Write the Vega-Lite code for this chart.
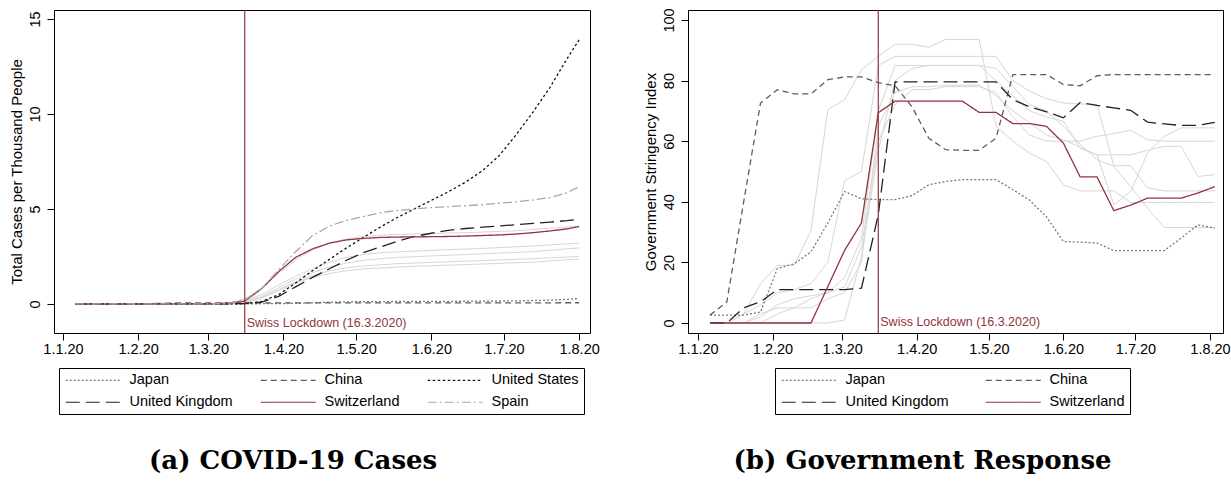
{
"$schema": "https://vega.github.io/schema/vega-lite/v6.json",
"background": "white",
"padding": {"left": 8, "top": 7, "right": 0, "bottom": 0},
"spacing": 42,
"resolve": {"scale": {"color": "independent", "strokeDash": "independent"}, "legend": {"color": "independent", "strokeDash": "independent"}},
"config": {
  "font": "Liberation Sans",
  "view": {"stroke": "black", "strokeWidth": 1},
  "axis": {"domain": false, "grid": false, "tickColor": "black", "tickSize": 7, "tickWidth": 1, "labelColor": "black", "labelFontSize": 14.5, "labelFont": "Liberation Sans", "titleFont": "Liberation Sans", "titleFontSize": 15, "titleFontWeight": "normal", "titleColor": "black"},
  "legend": {"labelFont": "Liberation Sans", "labelColor": "black"},
  "title": {"font": "DejaVu Serif", "fontSize": 26, "fontWeight": "bold", "color": "black", "orient": "bottom", "anchor": "middle", "frame": "bounds"}
},
"datasets": {
  "lock": [{"d": "2020-03-16", "label": "Swiss Lockdown (16.3.2020)"}],
  "cases": [
    {"c":"Japan","d":"2020-01-06","v":0},{"c":"Japan","d":"2020-03-02","v":0.002},{"c":"Japan","d":"2020-03-16","v":0.007},{"c":"Japan","d":"2020-03-30","v":0.015},{"c":"Japan","d":"2020-04-06","v":0.03},{"c":"Japan","d":"2020-04-13","v":0.06},{"c":"Japan","d":"2020-04-20","v":0.09},{"c":"Japan","d":"2020-04-27","v":0.11},{"c":"Japan","d":"2020-05-04","v":0.12},{"c":"Japan","d":"2020-05-11","v":0.125},{"c":"Japan","d":"2020-06-01","v":0.135},{"c":"Japan","d":"2020-06-22","v":0.145},{"c":"Japan","d":"2020-07-06","v":0.16},{"c":"Japan","d":"2020-07-13","v":0.18},{"c":"Japan","d":"2020-07-20","v":0.2},{"c":"Japan","d":"2020-07-27","v":0.24},{"c":"Japan","d":"2020-08-01","v":0.29},
    {"c":"China","d":"2020-01-06","v":0},{"c":"China","d":"2020-01-20","v":0.0002},{"c":"China","d":"2020-01-27","v":0.003},{"c":"China","d":"2020-02-03","v":0.012},{"c":"China","d":"2020-02-10","v":0.029},{"c":"China","d":"2020-02-17","v":0.051},{"c":"China","d":"2020-02-24","v":0.055},{"c":"China","d":"2020-03-02","v":0.057},{"c":"China","d":"2020-03-30","v":0.058},{"c":"China","d":"2020-08-01","v":0.061},
    {"c":"United States","d":"2020-01-06","v":0},{"c":"United States","d":"2020-03-02","v":0.0003},{"c":"United States","d":"2020-03-09","v":0.0017},{"c":"United States","d":"2020-03-16","v":0.014},{"c":"United States","d":"2020-03-23","v":0.13},{"c":"United States","d":"2020-03-30","v":0.49},{"c":"United States","d":"2020-04-06","v":1.1},{"c":"United States","d":"2020-04-13","v":1.75},{"c":"United States","d":"2020-04-20","v":2.35},{"c":"United States","d":"2020-04-27","v":2.95},{"c":"United States","d":"2020-05-04","v":3.5},{"c":"United States","d":"2020-05-11","v":4.05},{"c":"United States","d":"2020-05-18","v":4.55},{"c":"United States","d":"2020-05-25","v":5.0},{"c":"United States","d":"2020-06-01","v":5.45},{"c":"United States","d":"2020-06-08","v":5.9},{"c":"United States","d":"2020-06-15","v":6.4},{"c":"United States","d":"2020-06-22","v":7.0},{"c":"United States","d":"2020-06-29","v":7.8},{"c":"United States","d":"2020-07-06","v":8.9},{"c":"United States","d":"2020-07-13","v":10.1},{"c":"United States","d":"2020-07-20","v":11.4},{"c":"United States","d":"2020-07-27","v":12.9},{"c":"United States","d":"2020-08-01","v":13.9},
    {"c":"United Kingdom","d":"2020-01-06","v":0},{"c":"United Kingdom","d":"2020-03-02","v":0.0006},{"c":"United Kingdom","d":"2020-03-09","v":0.005},{"c":"United Kingdom","d":"2020-03-16","v":0.02},{"c":"United Kingdom","d":"2020-03-23","v":0.09},{"c":"United Kingdom","d":"2020-03-30","v":0.4},{"c":"United Kingdom","d":"2020-04-06","v":0.9},{"c":"United Kingdom","d":"2020-04-13","v":1.4},{"c":"United Kingdom","d":"2020-04-20","v":1.85},{"c":"United Kingdom","d":"2020-04-27","v":2.3},{"c":"United Kingdom","d":"2020-05-04","v":2.7},{"c":"United Kingdom","d":"2020-05-11","v":3.0},{"c":"United Kingdom","d":"2020-05-18","v":3.3},{"c":"United Kingdom","d":"2020-05-25","v":3.55},{"c":"United Kingdom","d":"2020-06-01","v":3.72},{"c":"United Kingdom","d":"2020-06-08","v":3.87},{"c":"United Kingdom","d":"2020-06-15","v":3.97},{"c":"United Kingdom","d":"2020-06-22","v":4.04},{"c":"United Kingdom","d":"2020-06-29","v":4.1},{"c":"United Kingdom","d":"2020-07-06","v":4.17},{"c":"United Kingdom","d":"2020-07-13","v":4.24},{"c":"United Kingdom","d":"2020-07-20","v":4.31},{"c":"United Kingdom","d":"2020-07-27","v":4.38},{"c":"United Kingdom","d":"2020-08-01","v":4.45},
    {"c":"Switzerland","d":"2020-01-06","v":0},{"c":"Switzerland","d":"2020-02-24","v":0.001},{"c":"Switzerland","d":"2020-03-02","v":0.005},{"c":"Switzerland","d":"2020-03-09","v":0.04},{"c":"Switzerland","d":"2020-03-16","v":0.15},{"c":"Switzerland","d":"2020-03-23","v":0.8},{"c":"Switzerland","d":"2020-03-30","v":1.7},{"c":"Switzerland","d":"2020-04-06","v":2.45},{"c":"Switzerland","d":"2020-04-13","v":2.9},{"c":"Switzerland","d":"2020-04-20","v":3.2},{"c":"Switzerland","d":"2020-04-27","v":3.37},{"c":"Switzerland","d":"2020-05-04","v":3.45},{"c":"Switzerland","d":"2020-05-11","v":3.5},{"c":"Switzerland","d":"2020-05-18","v":3.52},{"c":"Switzerland","d":"2020-05-25","v":3.53},{"c":"Switzerland","d":"2020-06-01","v":3.54},{"c":"Switzerland","d":"2020-06-08","v":3.55},{"c":"Switzerland","d":"2020-06-15","v":3.57},{"c":"Switzerland","d":"2020-06-22","v":3.6},{"c":"Switzerland","d":"2020-06-29","v":3.63},{"c":"Switzerland","d":"2020-07-06","v":3.68},{"c":"Switzerland","d":"2020-07-13","v":3.75},{"c":"Switzerland","d":"2020-07-20","v":3.84},{"c":"Switzerland","d":"2020-07-27","v":3.95},{"c":"Switzerland","d":"2020-08-01","v":4.07},
    {"c":"Spain","d":"2020-01-06","v":0},{"c":"Spain","d":"2020-02-17","v":0.0001},{"c":"Spain","d":"2020-03-02","v":0.003},{"c":"Spain","d":"2020-03-09","v":0.03},{"c":"Spain","d":"2020-03-16","v":0.21},{"c":"Spain","d":"2020-03-23","v":0.8},{"c":"Spain","d":"2020-03-30","v":1.8},{"c":"Spain","d":"2020-04-06","v":2.75},{"c":"Spain","d":"2020-04-13","v":3.6},{"c":"Spain","d":"2020-04-20","v":4.1},{"c":"Spain","d":"2020-04-27","v":4.4},{"c":"Spain","d":"2020-05-04","v":4.6},{"c":"Spain","d":"2020-05-11","v":4.8},{"c":"Spain","d":"2020-05-18","v":4.92},{"c":"Spain","d":"2020-05-25","v":5.0},{"c":"Spain","d":"2020-06-01","v":5.07},{"c":"Spain","d":"2020-06-08","v":5.12},{"c":"Spain","d":"2020-06-15","v":5.17},{"c":"Spain","d":"2020-06-22","v":5.22},{"c":"Spain","d":"2020-06-29","v":5.3},{"c":"Spain","d":"2020-07-06","v":5.37},{"c":"Spain","d":"2020-07-13","v":5.47},{"c":"Spain","d":"2020-07-20","v":5.6},{"c":"Spain","d":"2020-07-27","v":5.85},{"c":"Spain","d":"2020-08-01","v":6.17}
  ],
  "cgray": [
    {"c":"G1","d":"2020-01-06","v":0},{"c":"G1","d":"2020-03-02","v":0.01},{"c":"G1","d":"2020-03-09","v":0.05},{"c":"G1","d":"2020-03-16","v":0.25},{"c":"G1","d":"2020-03-23","v":0.85},{"c":"G1","d":"2020-03-30","v":1.6},{"c":"G1","d":"2020-04-06","v":2.3},{"c":"G1","d":"2020-04-13","v":2.85},{"c":"G1","d":"2020-04-20","v":3.2},{"c":"G1","d":"2020-04-27","v":3.42},{"c":"G1","d":"2020-05-04","v":3.55},{"c":"G1","d":"2020-05-11","v":3.62},{"c":"G1","d":"2020-05-25","v":3.68},{"c":"G1","d":"2020-06-15","v":3.75},{"c":"G1","d":"2020-07-06","v":3.85},{"c":"G1","d":"2020-08-01","v":4.1},
    {"c":"G2","d":"2020-01-06","v":0},{"c":"G2","d":"2020-03-02","v":0.005},{"c":"G2","d":"2020-03-09","v":0.03},{"c":"G2","d":"2020-03-16","v":0.15},{"c":"G2","d":"2020-03-23","v":0.5},{"c":"G2","d":"2020-03-30","v":1.0},{"c":"G2","d":"2020-04-06","v":1.45},{"c":"G2","d":"2020-04-13","v":1.85},{"c":"G2","d":"2020-04-20","v":2.2},{"c":"G2","d":"2020-04-27","v":2.45},{"c":"G2","d":"2020-05-04","v":2.6},{"c":"G2","d":"2020-05-11","v":2.7},{"c":"G2","d":"2020-06-01","v":2.82},{"c":"G2","d":"2020-06-22","v":2.92},{"c":"G2","d":"2020-07-13","v":3.05},{"c":"G2","d":"2020-08-01","v":3.2},
    {"c":"G3","d":"2020-01-06","v":0},{"c":"G3","d":"2020-03-09","v":0.02},{"c":"G3","d":"2020-03-16","v":0.1},{"c":"G3","d":"2020-03-23","v":0.4},{"c":"G3","d":"2020-03-30","v":0.85},{"c":"G3","d":"2020-04-06","v":1.3},{"c":"G3","d":"2020-04-13","v":1.65},{"c":"G3","d":"2020-04-20","v":1.95},{"c":"G3","d":"2020-04-27","v":2.15},{"c":"G3","d":"2020-05-04","v":2.3},{"c":"G3","d":"2020-05-18","v":2.45},{"c":"G3","d":"2020-06-15","v":2.6},{"c":"G3","d":"2020-07-13","v":2.75},{"c":"G3","d":"2020-08-01","v":2.95},
    {"c":"G4","d":"2020-01-06","v":0},{"c":"G4","d":"2020-03-09","v":0.02},{"c":"G4","d":"2020-03-16","v":0.1},{"c":"G4","d":"2020-03-23","v":0.35},{"c":"G4","d":"2020-03-30","v":0.75},{"c":"G4","d":"2020-04-06","v":1.15},{"c":"G4","d":"2020-04-13","v":1.5},{"c":"G4","d":"2020-04-20","v":1.75},{"c":"G4","d":"2020-04-27","v":1.9},{"c":"G4","d":"2020-05-04","v":2.0},{"c":"G4","d":"2020-05-18","v":2.12},{"c":"G4","d":"2020-06-15","v":2.25},{"c":"G4","d":"2020-07-13","v":2.38},{"c":"G4","d":"2020-08-01","v":2.5},
    {"c":"G5","d":"2020-01-06","v":0},{"c":"G5","d":"2020-03-09","v":0.01},{"c":"G5","d":"2020-03-16","v":0.06},{"c":"G5","d":"2020-03-23","v":0.3},{"c":"G5","d":"2020-03-30","v":0.7},{"c":"G5","d":"2020-04-06","v":1.1},{"c":"G5","d":"2020-04-13","v":1.4},{"c":"G5","d":"2020-04-20","v":1.6},{"c":"G5","d":"2020-04-27","v":1.75},{"c":"G5","d":"2020-05-04","v":1.85},{"c":"G5","d":"2020-05-25","v":1.98},{"c":"G5","d":"2020-06-22","v":2.1},{"c":"G5","d":"2020-07-13","v":2.2},{"c":"G5","d":"2020-08-01","v":2.37}
  ],
  "str": [
    {"c":"Japan","d":"2020-01-06","v":2.6},{"c":"Japan","d":"2020-01-13","v":2.6},{"c":"Japan","d":"2020-01-20","v":2.6},{"c":"Japan","d":"2020-01-27","v":3.6},{"c":"Japan","d":"2020-02-03","v":18},{"c":"Japan","d":"2020-02-10","v":19.5},{"c":"Japan","d":"2020-02-17","v":23.5},{"c":"Japan","d":"2020-02-24","v":33},{"c":"Japan","d":"2020-03-02","v":43.4},{"c":"Japan","d":"2020-03-09","v":41},{"c":"Japan","d":"2020-03-16","v":40.7},{"c":"Japan","d":"2020-03-23","v":40.7},{"c":"Japan","d":"2020-03-30","v":42},{"c":"Japan","d":"2020-04-06","v":45.6},{"c":"Japan","d":"2020-04-13","v":46.7},{"c":"Japan","d":"2020-04-20","v":47.3},{"c":"Japan","d":"2020-04-27","v":47.3},{"c":"Japan","d":"2020-05-04","v":47.3},{"c":"Japan","d":"2020-05-11","v":44},{"c":"Japan","d":"2020-05-18","v":40.5},{"c":"Japan","d":"2020-05-25","v":35},{"c":"Japan","d":"2020-06-01","v":26.9},{"c":"Japan","d":"2020-06-08","v":26.7},{"c":"Japan","d":"2020-06-15","v":26.4},{"c":"Japan","d":"2020-06-22","v":23.9},{"c":"Japan","d":"2020-06-29","v":23.9},{"c":"Japan","d":"2020-07-06","v":23.9},{"c":"Japan","d":"2020-07-13","v":23.9},{"c":"Japan","d":"2020-07-20","v":28},{"c":"Japan","d":"2020-07-27","v":32.4},{"c":"Japan","d":"2020-08-03","v":31.3},
    {"c":"China","d":"2020-01-06","v":2.6},{"c":"China","d":"2020-01-13","v":7},{"c":"China","d":"2020-01-20","v":40},{"c":"China","d":"2020-01-27","v":72.6},{"c":"China","d":"2020-02-03","v":77},{"c":"China","d":"2020-02-10","v":75.6},{"c":"China","d":"2020-02-17","v":75.6},{"c":"China","d":"2020-02-24","v":80.3},{"c":"China","d":"2020-03-02","v":81.2},{"c":"China","d":"2020-03-09","v":81.2},{"c":"China","d":"2020-03-16","v":79.3},{"c":"China","d":"2020-03-23","v":78.3},{"c":"China","d":"2020-03-30","v":71.4},{"c":"China","d":"2020-04-06","v":61},{"c":"China","d":"2020-04-13","v":57.2},{"c":"China","d":"2020-04-20","v":57},{"c":"China","d":"2020-04-27","v":57},{"c":"China","d":"2020-05-04","v":61},{"c":"China","d":"2020-05-11","v":82},{"c":"China","d":"2020-05-18","v":82},{"c":"China","d":"2020-05-25","v":82},{"c":"China","d":"2020-06-01","v":78.7},{"c":"China","d":"2020-06-08","v":78.3},{"c":"China","d":"2020-06-15","v":81.6},{"c":"China","d":"2020-06-22","v":82},{"c":"China","d":"2020-06-29","v":82},{"c":"China","d":"2020-07-06","v":82},{"c":"China","d":"2020-07-13","v":82},{"c":"China","d":"2020-07-20","v":82},{"c":"China","d":"2020-07-27","v":82},{"c":"China","d":"2020-08-03","v":82},
    {"c":"United Kingdom","d":"2020-01-06","v":0},{"c":"United Kingdom","d":"2020-01-13","v":0},{"c":"United Kingdom","d":"2020-01-20","v":5},{"c":"United Kingdom","d":"2020-01-27","v":7},{"c":"United Kingdom","d":"2020-02-03","v":11},{"c":"United Kingdom","d":"2020-02-10","v":11},{"c":"United Kingdom","d":"2020-02-17","v":11},{"c":"United Kingdom","d":"2020-02-24","v":11},{"c":"United Kingdom","d":"2020-03-02","v":11},{"c":"United Kingdom","d":"2020-03-09","v":11.5},{"c":"United Kingdom","d":"2020-03-16","v":35.7},{"c":"United Kingdom","d":"2020-03-23","v":79.6},{"c":"United Kingdom","d":"2020-03-30","v":79.6},{"c":"United Kingdom","d":"2020-04-06","v":79.6},{"c":"United Kingdom","d":"2020-04-13","v":79.6},{"c":"United Kingdom","d":"2020-04-20","v":79.6},{"c":"United Kingdom","d":"2020-04-27","v":79.6},{"c":"United Kingdom","d":"2020-05-04","v":79.6},{"c":"United Kingdom","d":"2020-05-11","v":73.7},{"c":"United Kingdom","d":"2020-05-18","v":71.3},{"c":"United Kingdom","d":"2020-05-25","v":69.7},{"c":"United Kingdom","d":"2020-06-01","v":67.7},{"c":"United Kingdom","d":"2020-06-08","v":72.8},{"c":"United Kingdom","d":"2020-06-15","v":71.8},{"c":"United Kingdom","d":"2020-06-22","v":71},{"c":"United Kingdom","d":"2020-06-29","v":70.2},{"c":"United Kingdom","d":"2020-07-06","v":66.3},{"c":"United Kingdom","d":"2020-07-13","v":65.7},{"c":"United Kingdom","d":"2020-07-20","v":65.2},{"c":"United Kingdom","d":"2020-07-27","v":65.2},{"c":"United Kingdom","d":"2020-08-03","v":66.2},
    {"c":"Switzerland","d":"2020-01-06","v":0},{"c":"Switzerland","d":"2020-01-13","v":0},{"c":"Switzerland","d":"2020-01-20","v":0},{"c":"Switzerland","d":"2020-01-27","v":0},{"c":"Switzerland","d":"2020-02-03","v":0},{"c":"Switzerland","d":"2020-02-10","v":0},{"c":"Switzerland","d":"2020-02-17","v":0},{"c":"Switzerland","d":"2020-02-24","v":12},{"c":"Switzerland","d":"2020-03-02","v":24},{"c":"Switzerland","d":"2020-03-09","v":33},{"c":"Switzerland","d":"2020-03-16","v":69.4},{"c":"Switzerland","d":"2020-03-23","v":73.2},{"c":"Switzerland","d":"2020-03-30","v":73.2},{"c":"Switzerland","d":"2020-04-06","v":73.2},{"c":"Switzerland","d":"2020-04-13","v":73.2},{"c":"Switzerland","d":"2020-04-20","v":73.2},{"c":"Switzerland","d":"2020-04-27","v":69.5},{"c":"Switzerland","d":"2020-05-04","v":69.5},{"c":"Switzerland","d":"2020-05-11","v":65.8},{"c":"Switzerland","d":"2020-05-18","v":65.8},{"c":"Switzerland","d":"2020-05-25","v":64.9},{"c":"Switzerland","d":"2020-06-01","v":59.4},{"c":"Switzerland","d":"2020-06-08","v":48.2},{"c":"Switzerland","d":"2020-06-15","v":48.2},{"c":"Switzerland","d":"2020-06-22","v":37.1},{"c":"Switzerland","d":"2020-06-29","v":38.9},{"c":"Switzerland","d":"2020-07-06","v":41.2},{"c":"Switzerland","d":"2020-07-13","v":41.2},{"c":"Switzerland","d":"2020-07-20","v":41.2},{"c":"Switzerland","d":"2020-07-27","v":42.9},{"c":"Switzerland","d":"2020-08-03","v":45}
  ],
  "sgray": [
    {"c":"K","d":"2020-01-06","v":0},{"c":"K","d":"2020-01-13","v":0},{"c":"K","d":"2020-01-20","v":3},{"c":"K","d":"2020-01-27","v":13},{"c":"K","d":"2020-02-03","v":19},{"c":"K","d":"2020-02-10","v":19},{"c":"K","d":"2020-02-17","v":30.5},{"c":"K","d":"2020-02-24","v":70.4},{"c":"K","d":"2020-03-02","v":73.7},{"c":"K","d":"2020-03-09","v":83.6},{"c":"K","d":"2020-03-16","v":88},{"c":"K","d":"2020-03-23","v":92},{"c":"K","d":"2020-03-30","v":92},{"c":"K","d":"2020-04-06","v":91},{"c":"K","d":"2020-04-13","v":93.6},{"c":"K","d":"2020-04-20","v":93.6},{"c":"K","d":"2020-04-27","v":93.6},{"c":"K","d":"2020-05-04","v":65},{"c":"K","d":"2020-05-11","v":60},{"c":"K","d":"2020-05-18","v":56},{"c":"K","d":"2020-05-25","v":53.3},{"c":"K","d":"2020-06-01","v":45.6},{"c":"K","d":"2020-06-08","v":43.6},{"c":"K","d":"2020-06-15","v":43.6},{"c":"K","d":"2020-06-22","v":43.6},{"c":"K","d":"2020-06-29","v":39.8},{"c":"K","d":"2020-07-06","v":39.8},{"c":"K","d":"2020-07-13","v":39.8},{"c":"K","d":"2020-07-20","v":39.8},{"c":"K","d":"2020-07-27","v":39.8},{"c":"K","d":"2020-08-03","v":39.8},
    {"c":"L2","d":"2020-01-06","v":0},{"c":"L2","d":"2020-01-13","v":0},{"c":"L2","d":"2020-01-20","v":3},{"c":"L2","d":"2020-01-27","v":6},{"c":"L2","d":"2020-02-03","v":10},{"c":"L2","d":"2020-02-10","v":11},{"c":"L2","d":"2020-02-17","v":13},{"c":"L2","d":"2020-02-24","v":20},{"c":"L2","d":"2020-03-02","v":47},{"c":"L2","d":"2020-03-09","v":50},{"c":"L2","d":"2020-03-16","v":85},{"c":"L2","d":"2020-03-23","v":88},{"c":"L2","d":"2020-03-30","v":88},{"c":"L2","d":"2020-04-06","v":88},{"c":"L2","d":"2020-04-13","v":88},{"c":"L2","d":"2020-04-20","v":88},{"c":"L2","d":"2020-04-27","v":88},{"c":"L2","d":"2020-05-04","v":88},{"c":"L2","d":"2020-05-11","v":80},{"c":"L2","d":"2020-05-18","v":76.5},{"c":"L2","d":"2020-05-25","v":74},{"c":"L2","d":"2020-06-01","v":72.6},{"c":"L2","d":"2020-06-08","v":72.3},{"c":"L2","d":"2020-06-15","v":72.1},{"c":"L2","d":"2020-06-22","v":51.9},{"c":"L2","d":"2020-06-29","v":51.9},{"c":"L2","d":"2020-07-06","v":44.6},{"c":"L2","d":"2020-07-13","v":43.6},{"c":"L2","d":"2020-07-20","v":43.6},{"c":"L2","d":"2020-07-27","v":43.6},{"c":"L2","d":"2020-08-03","v":43.6},
    {"c":"L3","d":"2020-01-06","v":0},{"c":"L3","d":"2020-01-13","v":0},{"c":"L3","d":"2020-01-20","v":0},{"c":"L3","d":"2020-01-27","v":2},{"c":"L3","d":"2020-02-03","v":6},{"c":"L3","d":"2020-02-10","v":8},{"c":"L3","d":"2020-02-17","v":9},{"c":"L3","d":"2020-02-24","v":10},{"c":"L3","d":"2020-03-02","v":15},{"c":"L3","d":"2020-03-09","v":28},{"c":"L3","d":"2020-03-16","v":70},{"c":"L3","d":"2020-03-23","v":85},{"c":"L3","d":"2020-03-30","v":85},{"c":"L3","d":"2020-04-06","v":85},{"c":"L3","d":"2020-04-13","v":85},{"c":"L3","d":"2020-04-20","v":85},{"c":"L3","d":"2020-04-27","v":85},{"c":"L3","d":"2020-05-04","v":80},{"c":"L3","d":"2020-05-11","v":75},{"c":"L3","d":"2020-05-18","v":70},{"c":"L3","d":"2020-05-25","v":68},{"c":"L3","d":"2020-06-01","v":66.6},{"c":"L3","d":"2020-06-08","v":57.7},{"c":"L3","d":"2020-06-15","v":55.5},{"c":"L3","d":"2020-06-22","v":39},{"c":"L3","d":"2020-06-29","v":43.4},{"c":"L3","d":"2020-07-06","v":56.1},{"c":"L3","d":"2020-07-13","v":61.6},{"c":"L3","d":"2020-07-20","v":64.4},{"c":"L3","d":"2020-07-27","v":64.4},{"c":"L3","d":"2020-08-03","v":64.4},
    {"c":"L4","d":"2020-01-06","v":0},{"c":"L4","d":"2020-01-13","v":0},{"c":"L4","d":"2020-01-20","v":0},{"c":"L4","d":"2020-01-27","v":0},{"c":"L4","d":"2020-02-03","v":3},{"c":"L4","d":"2020-02-10","v":5},{"c":"L4","d":"2020-02-17","v":8},{"c":"L4","d":"2020-02-24","v":10},{"c":"L4","d":"2020-03-02","v":12},{"c":"L4","d":"2020-03-09","v":25},{"c":"L4","d":"2020-03-16","v":60},{"c":"L4","d":"2020-03-23","v":72},{"c":"L4","d":"2020-03-30","v":77},{"c":"L4","d":"2020-04-06","v":77},{"c":"L4","d":"2020-04-13","v":78},{"c":"L4","d":"2020-04-20","v":78},{"c":"L4","d":"2020-04-27","v":78},{"c":"L4","d":"2020-05-04","v":76},{"c":"L4","d":"2020-05-11","v":68},{"c":"L4","d":"2020-05-18","v":62},{"c":"L4","d":"2020-05-25","v":60},{"c":"L4","d":"2020-06-01","v":60},{"c":"L4","d":"2020-06-08","v":60},{"c":"L4","d":"2020-06-15","v":61.6},{"c":"L4","d":"2020-06-22","v":62.5},{"c":"L4","d":"2020-06-29","v":63.6},{"c":"L4","d":"2020-07-06","v":60.5},{"c":"L4","d":"2020-07-13","v":60},{"c":"L4","d":"2020-07-20","v":60},{"c":"L4","d":"2020-07-27","v":60},{"c":"L4","d":"2020-08-03","v":60},
    {"c":"L5","d":"2020-01-06","v":0},{"c":"L5","d":"2020-01-13","v":0},{"c":"L5","d":"2020-01-20","v":0},{"c":"L5","d":"2020-01-27","v":3},{"c":"L5","d":"2020-02-03","v":5},{"c":"L5","d":"2020-02-10","v":5},{"c":"L5","d":"2020-02-17","v":5},{"c":"L5","d":"2020-02-24","v":8},{"c":"L5","d":"2020-03-02","v":10},{"c":"L5","d":"2020-03-09","v":20},{"c":"L5","d":"2020-03-16","v":65},{"c":"L5","d":"2020-03-23","v":76},{"c":"L5","d":"2020-03-30","v":78},{"c":"L5","d":"2020-04-06","v":78},{"c":"L5","d":"2020-04-13","v":78.5},{"c":"L5","d":"2020-04-20","v":78.5},{"c":"L5","d":"2020-04-27","v":78.5},{"c":"L5","d":"2020-05-04","v":75},{"c":"L5","d":"2020-05-11","v":70},{"c":"L5","d":"2020-05-18","v":66},{"c":"L5","d":"2020-05-25","v":62},{"c":"L5","d":"2020-06-01","v":60.5},{"c":"L5","d":"2020-06-08","v":58},{"c":"L5","d":"2020-06-15","v":55.5},{"c":"L5","d":"2020-06-22","v":55.5},{"c":"L5","d":"2020-06-29","v":55.5},{"c":"L5","d":"2020-07-06","v":57},{"c":"L5","d":"2020-07-13","v":58.3},{"c":"L5","d":"2020-07-20","v":58.3},{"c":"L5","d":"2020-07-27","v":48.4},{"c":"L5","d":"2020-08-03","v":48.9},
    {"c":"L6","d":"2020-01-06","v":0},{"c":"L6","d":"2020-01-13","v":0},{"c":"L6","d":"2020-01-20","v":0},{"c":"L6","d":"2020-01-27","v":0},{"c":"L6","d":"2020-02-03","v":0},{"c":"L6","d":"2020-02-10","v":0},{"c":"L6","d":"2020-02-17","v":0},{"c":"L6","d":"2020-02-24","v":0},{"c":"L6","d":"2020-03-02","v":1},{"c":"L6","d":"2020-03-09","v":22},{"c":"L6","d":"2020-03-16","v":57},{"c":"L6","d":"2020-03-23","v":80},{"c":"L6","d":"2020-03-30","v":84},{"c":"L6","d":"2020-04-06","v":85},{"c":"L6","d":"2020-04-13","v":85},{"c":"L6","d":"2020-04-20","v":85},{"c":"L6","d":"2020-04-27","v":85},{"c":"L6","d":"2020-05-04","v":84},{"c":"L6","d":"2020-05-11","v":78},{"c":"L6","d":"2020-05-18","v":72},{"c":"L6","d":"2020-05-25","v":70},{"c":"L6","d":"2020-06-01","v":64.9},{"c":"L6","d":"2020-06-08","v":59},{"c":"L6","d":"2020-06-15","v":53.9},{"c":"L6","d":"2020-06-22","v":51.7},{"c":"L6","d":"2020-06-29","v":45},{"c":"L6","d":"2020-07-06","v":38},{"c":"L6","d":"2020-07-13","v":31.5},{"c":"L6","d":"2020-07-20","v":31.5},{"c":"L6","d":"2020-07-27","v":31.5},{"c":"L6","d":"2020-08-03","v":31.5}
  ]
},
"hconcat": [
  {
    "width": 536, "height": 323,
    "title": {"text": "(a) COVID-19 Cases", "offset": 33, "dx": -11},
    "layer": [
      {
        "data": {"name": "cgray"},
        "mark": {"type": "line", "color": "#d6d6d6", "strokeWidth": 1},
        "encoding": {
          "x": {"field": "d", "type": "temporal", "title": null,
                "scale": {"type": "utc", "domain": [{"year": 2019, "month": 12, "date": 28, "hours": 7, "utc": true}, {"year": 2020, "month": 8, "date": 5, "hours": 12, "utc": true}]},
                "axis": {"format": "%-d.%-m.%y", "labelPadding": 2, "values": [{"year":2020,"month":1,"date":1,"utc":true},{"year":2020,"month":2,"date":1,"utc":true},{"year":2020,"month":3,"date":1,"utc":true},{"year":2020,"month":4,"date":1,"utc":true},{"year":2020,"month":5,"date":1,"utc":true},{"year":2020,"month":6,"date":1,"utc":true},{"year":2020,"month":7,"date":1,"utc":true},{"year":2020,"month":8,"date":1,"utc":true}]}},
          "y": {"field": "v", "type": "quantitative", "title": "Total Cases per Thousand People",
                "scale": {"domain": [-1.53, 15.47], "nice": false, "zero": false},
                "axis": {"values": [0, 5, 10, 15], "labelAngle": -90, "labelPadding": 5, "titlePadding": 3}},
          "detail": {"field": "c", "type": "nominal"}
        }
      },
      {
        "data": {"name": "cases"},
        "mark": {"type": "line", "strokeWidth": 1.3},
        "encoding": {
          "x": {"field": "d", "type": "temporal"},
          "y": {"field": "v", "type": "quantitative"},
          "color": {"field": "c", "type": "nominal",
                    "scale": {"domain": ["Japan", "China", "United States", "United Kingdom", "Switzerland", "Spain"], "range": ["#7a7a7a", "#5e5e5e", "#111111", "#222222", "#90353b", "#a9a9a9"]},
                    "legend": {"orient": "none", "legendX": 5, "legendY": 358, "columns": 3, "direction": "horizontal", "title": null, "symbolType": "M-5,0H5", "symbolSize": 121, "symbolStrokeWidth": 1.2, "symbolOffset": 22, "labelOffset": 29, "labelFontSize": 14.5, "strokeColor": "black", "padding": 5, "columnPadding": 25, "rowPadding": 7}},
          "strokeDash": {"field": "c", "type": "nominal",
                    "scale": {"domain": ["Japan", "China", "United States", "United Kingdom", "Switzerland", "Spain"], "range": [[2, 2], [6, 4], [2.5, 2.5], [14, 6], [1, 0], [9, 3, 2, 3]]},
                    "legend": {"orient": "none", "legendX": 5, "legendY": 358, "columns": 3, "direction": "horizontal", "title": null, "symbolType": "M-5,0H5", "symbolSize": 121, "symbolStrokeWidth": 1.2, "symbolOffset": 22, "labelOffset": 29, "labelFontSize": 14.5, "strokeColor": "black", "padding": 5, "columnPadding": 25, "rowPadding": 7}}
        }
      },
      {
        "data": {"name": "lock"},
        "mark": {"type": "rule", "color": "#90353b", "strokeWidth": 1.2},
        "encoding": {"x": {"field": "d", "type": "temporal"}}
      },
      {
        "data": {"name": "lock"},
        "mark": {"type": "text", "align": "left", "baseline": "middle", "dx": 2, "color": "#90353b", "fontSize": 12.5, "font": "Liberation Sans"},
        "encoding": {"x": {"field": "d", "type": "temporal"}, "y": {"datum": -1}, "text": {"field": "label"}}
      }
    ]
  },
  {
    "width": 535, "height": 323,
    "title": {"text": "(b) Government Response", "offset": 33, "dx": -14},
    "layer": [
      {
        "data": {"name": "sgray"},
        "mark": {"type": "line", "color": "#d6d6d6", "strokeWidth": 1},
        "encoding": {
          "x": {"field": "d", "type": "temporal", "title": null,
                "scale": {"type": "utc", "domain": [{"year": 2019, "month": 12, "date": 27, "hours": 20, "utc": true}, {"year": 2020, "month": 8, "date": 6, "hours": 10, "utc": true}]},
                "axis": {"format": "%-d.%-m.%y", "labelPadding": 2, "values": [{"year":2020,"month":1,"date":1,"utc":true},{"year":2020,"month":2,"date":1,"utc":true},{"year":2020,"month":3,"date":1,"utc":true},{"year":2020,"month":4,"date":1,"utc":true},{"year":2020,"month":5,"date":1,"utc":true},{"year":2020,"month":6,"date":1,"utc":true},{"year":2020,"month":7,"date":1,"utc":true},{"year":2020,"month":8,"date":1,"utc":true}]}},
          "y": {"field": "v", "type": "quantitative", "title": "Government Stringency Index",
                "scale": {"domain": [-3.3, 103.3], "nice": false, "zero": false},
                "axis": {"values": [0, 20, 40, 60, 80, 100], "labelAngle": -90, "labelPadding": 5, "titlePadding": 3}},
          "detail": {"field": "c", "type": "nominal"}
        }
      },
      {
        "data": {"name": "str"},
        "mark": {"type": "line", "strokeWidth": 1.3},
        "encoding": {
          "x": {"field": "d", "type": "temporal"},
          "y": {"field": "v", "type": "quantitative"},
          "color": {"field": "c", "type": "nominal",
                    "scale": {"domain": ["Japan", "China", "United Kingdom", "Switzerland"], "range": ["#7a7a7a", "#5e5e5e", "#222222", "#90353b"]},
                    "legend": {"orient": "none", "legendX": 87, "legendY": 358, "columns": 2, "direction": "horizontal", "title": null, "symbolType": "M-5,0H5", "symbolSize": 121, "symbolStrokeWidth": 1.2, "symbolOffset": 22, "labelOffset": 29, "labelFontSize": 14.5, "strokeColor": "black", "padding": 5, "columnPadding": 34, "rowPadding": 7}},
          "strokeDash": {"field": "c", "type": "nominal",
                    "scale": {"domain": ["Japan", "China", "United Kingdom", "Switzerland"], "range": [[2, 2], [6, 4], [14, 6], [1, 0]]},
                    "legend": {"orient": "none", "legendX": 87, "legendY": 358, "columns": 2, "direction": "horizontal", "title": null, "symbolType": "M-5,0H5", "symbolSize": 121, "symbolStrokeWidth": 1.2, "symbolOffset": 22, "labelOffset": 29, "labelFontSize": 14.5, "strokeColor": "black", "padding": 5, "columnPadding": 34, "rowPadding": 7}}
        }
      },
      {
        "data": {"name": "lock"},
        "mark": {"type": "rule", "color": "#90353b", "strokeWidth": 1.2},
        "encoding": {"x": {"field": "d", "type": "temporal"}}
      },
      {
        "data": {"name": "lock"},
        "mark": {"type": "text", "align": "left", "baseline": "middle", "dx": 2, "color": "#90353b", "fontSize": 12.5, "font": "Liberation Sans"},
        "encoding": {"x": {"field": "d", "type": "temporal"}, "y": {"datum": 0.3}, "text": {"field": "label"}}
      }
    ]
  }
]
}
